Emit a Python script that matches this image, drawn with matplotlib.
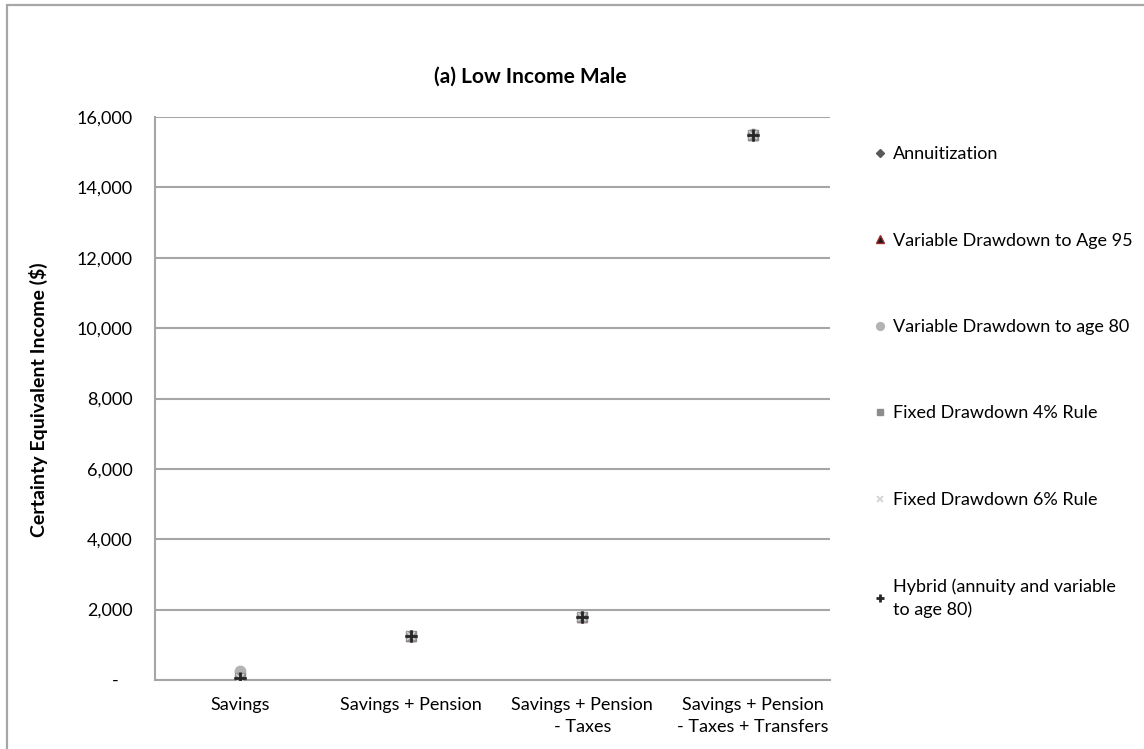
import matplotlib.pyplot as plt
from matplotlib.patches import Rectangle
from matplotlib.ticker import FuncFormatter

plt.rcParams['font.family'] = ['Lato', 'DejaVu Sans']

categories = ['Savings', 'Savings + Pension', 'Savings + Pension\n- Taxes',
              'Savings + Pension\n- Taxes + Transfers']
annuitization = [60, 1250, 1780, 15500]
var_drawdown_95 = [60, 1250, 1780, 15500]
var_drawdown_80 = [250, 1260, 1790, 15510]
fixed_4pct = [60, 1250, 1780, 15500]
fixed_6pct = [60, 1250, 1780, 15500]
hybrid = [60, 1250, 1780, 15500]

series = [
    ('Annuitization', annuitization, dict(marker='D', color='#595959', mec='#595959', ms=6)),
    ('Variable Drawdown to Age 95', var_drawdown_95, dict(marker='^', color='#1a1a1a', mec='#a52a2a', ms=7)),
    ('Variable Drawdown to age 80', var_drawdown_80, dict(marker='o', color='#b3b3b3', mec='#b3b3b3', ms=7.5)),
    ('Fixed Drawdown 4% Rule', fixed_4pct, dict(marker='s', color='#8c8c8c', mec='#8c8c8c', ms=6.5)),
    ('Fixed Drawdown 6% Rule', fixed_6pct, dict(marker='x', color='#d0d0d0', mec='#d0d0d0', ms=6, mew=1.2)),
    ('Hybrid (annuity and variable\nto age 80)', hybrid, dict(marker='+', color='#262626', mec='#262626', ms=8, mew=2)),
]

W, H = 1144, 749
fig = plt.figure(figsize=(W / 100, H / 100), dpi=100)

# outer chart frame (runs off the right and bottom of the crop)
fig.patches.append(Rectangle((7 / W, -0.1), 1.2, 1 - 5 / H + 0.1, transform=fig.transFigure,
                             fill=False, ec='#a6a6a6', lw=1.6))

ax = fig.add_axes([155 / W, 1 - 680 / H, (830 - 155) / W, (680 - 117) / H])

x = list(range(1, len(categories) + 1))
for name, vals, st in series:
    ax.plot(x, vals, ls='none', label=name, zorder=3, **st)

ax.set_xlim(0.5, 4.45)
ax.set_ylim(0, 16000)
ax.set_yticks(range(0, 16001, 2000))
ax.yaxis.set_major_formatter(FuncFormatter(lambda v, p: '-   ' if v == 0 else f'{int(v):,}'))
ax.set_xticks(x)
ax.set_xticklabels(categories, linespacing=1.45)
ax.tick_params(length=0, labelsize=13, colors='#000000')
ax.tick_params(axis='y', pad=16)
ax.tick_params(axis='x', pad=12)
ax.grid(axis='y', color='#a6a6a6', lw=1.5)
ax.set_axisbelow(True)
for s in ['top', 'right']:
    ax.spines[s].set_visible(False)
for s in ['left', 'bottom']:
    ax.spines[s].set_color('#a6a6a6')
    ax.spines[s].set_linewidth(1.5)

fig.text(38 / W, 1 - 400 / H, 'Certainty Equivalent Income ($)',
         rotation=90, ha='center', va='center', fontsize=14, fontweight='bold')

fig.text(530 / W, 1 - 77 / H, '(a) Low Income Male', ha='center', va='center',
         fontsize=15, fontweight='bold')

leg = fig.legend(loc='upper left', bbox_to_anchor=(867 / W, 1 - 139 / H), frameon=False,
                 fontsize=13, labelspacing=3.9, handlelength=0.6, handletextpad=0.45,
                 borderaxespad=0)
for h in leg.legend_handles:
    h.set_markersize(h.get_markersize() * 0.75)
for t in leg.get_texts():
    t.set_linespacing(1.45)

fig.savefig('out.png', dpi=100)
